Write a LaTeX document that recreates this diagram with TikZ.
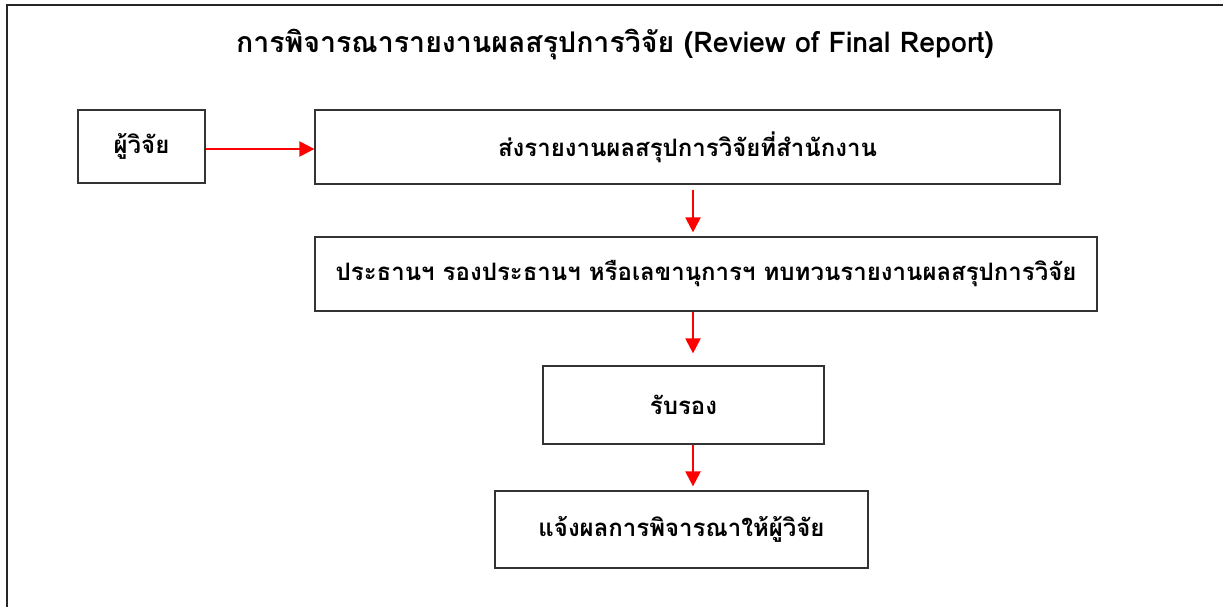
\documentclass[tikz,border=0pt]{standalone}
\usepackage{fontspec}
\newfontfamily\thaifont[Script=Thai]{Loma}
\usetikzlibrary{arrows.meta,positioning}

\begin{document}
\begin{tikzpicture}[x=1pt,y=-1pt,
    box/.style={draw=black!80,line width=1.2pt,inner sep=0pt,
      font=\thaifont\bfseries\fontsize{24}{28}\selectfont},
    flow/.style={draw=red,line width=2.2pt,-{Triangle[length=15pt,width=15pt]}}]
  \useasboundingbox (0,0) rectangle (1223,607);
  % frame, open at right and bottom
  \draw[line width=1.2pt,black!85] (7,620) -- (7,5) -- (1240,5);

  \node[font=\thaifont\bfseries\fontsize{28.5}{32}\selectfont] (title) at (615,45)
    {การพิจารณารายงานผลสรุปการวิจัย (Review of Final Report)};

  \node[box,minimum width=127pt,minimum height=73pt] (res) at (141.5,146.5) {ผู้วิจัย};
  \node[box,minimum width=745pt,minimum height=74pt] (send) at (687.5,147) {ส่งรายงานผลสรุปการวิจัยที่สำนักงาน};
  \node[box,minimum width=782pt,minimum height=74pt] (check) at (706,274) {ประธานฯ รองประธานฯ หรือเลขานุการฯ ทบทวนรายงานผลสรุปการวิจัย};
  \node[box,minimum width=281pt,minimum height=78pt] (ok) at (683.5,405) {รับรอง};
  \node[box,minimum width=373pt,minimum height=77pt] (tell) at (681.5,529.5) {แจ้งผลการพิจารณาให้ผู้วิจัย};

  \coordinate (axis) at (693,0);
  \coordinate (row) at (0,149);

  \draw[flow] (res.east |- row) -- (send.west |- row);
  \draw[flow] ([yshift=-5pt]send.south -| axis) -- ([yshift=4pt]check.north -| axis);
  \draw[flow] (check.south -| axis) -- ([yshift=12pt]ok.north -| axis);
  \draw[flow] (ok.south -| axis) -- ([yshift=4pt]tell.north -| axis);
\end{tikzpicture}
\end{document}
